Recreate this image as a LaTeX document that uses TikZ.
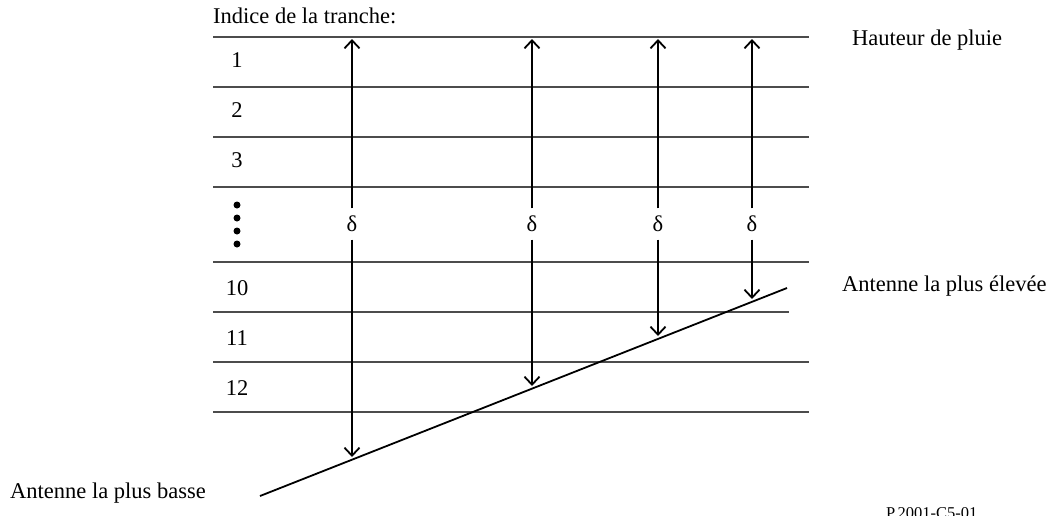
\documentclass[tikz,border=0pt]{standalone}
\usepackage{fontspec}
\setmainfont{Liberation Serif}
\usetikzlibrary{arrows.meta}
\begin{document}
\begin{tikzpicture}[x=1pt,y=-1pt,
  lbl/.style={font=\fontsize{22.5}{27}\selectfont, inner sep=0pt},
  small/.style={font=\fontsize{16.5}{20}\selectfont, inner sep=0pt},
  sliceline/.style={draw=black!70, line width=1.2pt},
  arr/.style={draw=black, line width=1.8pt, -{Straight Barb[length=8pt,width=15pt,line width=1.8pt]}},
  delta/.style={font=\fontsize{22.5}{27}\selectfont, inner sep=0pt, minimum height=31pt},
  dot/.style={circle, fill=black, inner sep=0pt, minimum size=7pt},
  antenna/.style={draw=black, line width=1.8pt}]
\useasboundingbox (0,0) rectangle (1053,515);
% slice lines
\foreach \y/\xe in {37/809, 87/809, 137/809, 187/809, 262/809, 312/789, 362/809, 412/809}
  \draw[sliceline] (213,\y) -- (\xe,\y);
% header labels
\node[lbl, anchor=base west] (idx) at (213,23) {Indice de la tranche:};
\node[lbl, anchor=base west] (haut) at (852,45) {Hauteur de pluie};
\node[lbl, anchor=base west] (high) at (842,291) {Antenne la plus élevée};
\node[lbl, anchor=base west] (low) at (10,498) {Antenne la plus basse};
\node[small, anchor=base west] (ref) at (886,518) {P.2001-C5-01};
% row labels
\node[lbl, anchor=base] (r1) at (237,67) {1};
\node[lbl, anchor=base] (r2) at (237,117) {2};
\node[lbl, anchor=base] (r3) at (237,167) {3};
\node[lbl, anchor=base] (r10) at (237,295) {10};
\node[lbl, anchor=base] (r11) at (237,345) {11};
\node[lbl, anchor=base] (r12) at (237,395) {12};
% dots
\node[dot] (p1) at (237,205) {};
\node[dot] (p2) at (237,218) {};
\node[dot] (p3) at (237,231) {};
\node[dot] (p4) at (237,244) {};
% antenna line
\coordinate (alo) at (260,496);
\coordinate (ahi) at (787,288);
\draw[antenna] (alo) -- (ahi);
% deltas and arrows
\node[delta] (d1) at (352,224) {δ};
\node[delta] (d2) at (532,224) {δ};
\node[delta] (d3) at (658,224) {δ};
\node[delta] (d4) at (752,224) {δ};
\coordinate (u1) at (352,39);
\coordinate (u2) at (532,39);
\coordinate (u3) at (658,39);
\coordinate (u4) at (752,39);
\coordinate (b1) at (352,457);
\coordinate (b2) at (532,386);
\coordinate (b3) at (658,336);
\coordinate (b4) at (752,299);
\foreach \i in {1,2,3,4} {
  \draw[arr] (d\i.north) -- (u\i);
  \draw[arr] (d\i.south) -- (b\i);
}
\end{tikzpicture}
\end{document}
